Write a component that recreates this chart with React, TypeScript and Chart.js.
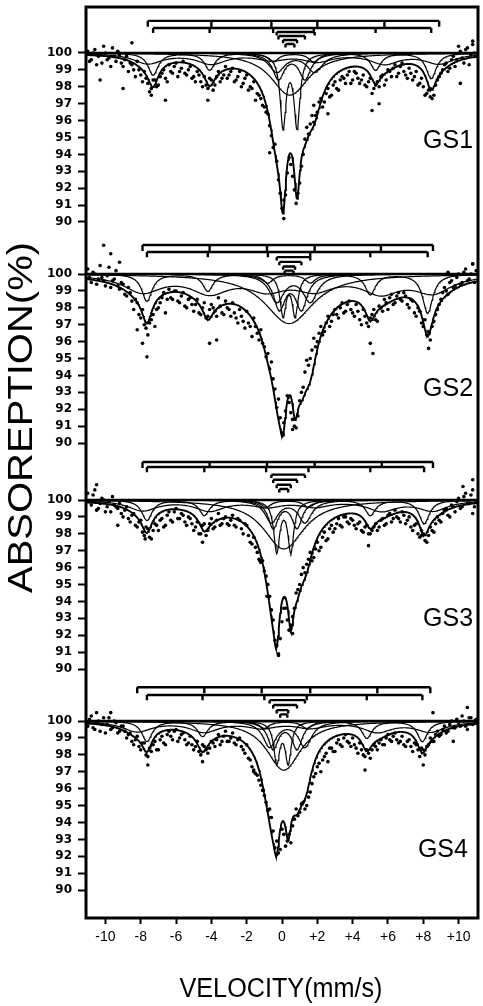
import React, { useEffect, useRef } from "react";
import { Chart, registerables } from "chart.js";

Chart.register(...registerables);

// ---------------- data ----------------
const SAMPLES = ["GS1", "GS2", "GS3", "GS4"];
const ABSORPTION_TICKS = [100, 99, 98, 97, 96, 95, 94, 93, 92, 91, 90];
const VELOCITY_TICKS = [-10, -8, -6, -4, -2, 0, 2, 4, 6, 8, 10];
const VELOCITY_TICK_LABELS = ["-10", "-8", "-6", "-4", "-2", "0", "+2", "+4", "+6", "+8", "+10"];

// measured channels: first velocity of each half and channel step (mm/s)
const CHANNEL_FIRST_A = -11.0;
const CHANNEL_FIRST_B = -10.9;
const CHANNEL_STEP = 0.2;

// absorption (%) per channel
const GS1_ABSORPTION = [
  100.1, 99.6, 100.2, 99.8, 99.4, 100.0, 99.7, 100.3, 99.5, 99.9,
  99.2, 99.8, 99.4, 99.0, 99.5, 98.7, 98.9, 98.2, 97.9, 98.4,
  98.1, 98.8, 98.5, 99.3, 98.8, 99.4, 98.9, 99.5, 98.7, 99.2,
  98.6, 98.9, 98.3, 98.6, 97.9, 98.4, 98.1, 98.9, 98.5, 99.2,
  98.7, 99.1, 98.4, 98.9, 98.2, 98.7, 98.0, 98.3, 97.6, 97.3,
  96.8, 96.4, 95.1, 94.6, 92.5, 90.8, 91.6, 93.8, 92.7, 91.1,
  92.3, 94.0, 95.6, 95.8, 96.9, 96.5, 97.3, 97.1, 97.9, 97.5,
  98.3, 97.8, 98.6, 98.2, 98.9, 98.4, 98.8, 98.2, 98.7, 98.0,
  98.5, 97.9, 98.3, 98.6, 98.1, 99.0, 98.6, 99.3, 98.8, 99.4,
  98.7, 99.1, 98.4, 98.9, 98.2, 98.0, 97.6, 97.9, 97.5, 98.4,
  98.8, 99.3, 98.9, 99.6, 99.2, 100.4, 99.7, 100.2, 99.3, 100.5,
  99.8,
];
const GS1_ABSORPTION_B = [
  99.5, 100.0, 99.3, 99.9, 100.4, 99.6, 99.2, 99.8, 100.1, 99.4,
  99.6, 98.9, 99.3, 98.6, 99.0, 98.3, 98.5, 97.7, 98.4, 98.0,
  98.6, 99.0, 98.3, 98.9, 99.2, 98.6, 99.1, 98.8, 99.0, 98.5,
  98.3, 98.7, 98.0, 98.1, 98.5, 97.8, 98.6, 98.3, 98.7, 98.5,
  98.9, 98.3, 98.6, 98.0, 98.5, 97.8, 97.9, 97.2, 97.5, 96.9,
  96.5, 95.7, 94.4, 93.6, 91.7, 91.3, 92.9, 93.4, 91.9, 91.7,
  93.3, 94.9, 95.2, 96.3, 96.3, 97.1, 96.8, 97.6, 97.4, 98.1,
  97.9, 98.4, 98.5, 98.7, 98.2, 98.9, 98.5, 98.4, 98.1, 98.3,
  97.6, 98.1, 98.0, 98.7, 98.4, 98.9, 99.1, 98.6, 99.2, 98.9,
  98.5, 98.8, 98.6, 98.1, 98.5, 97.5, 97.8, 97.3, 98.1, 98.6,
  99.0, 99.4, 99.1, 99.8, 99.6, 100.1, 99.4, 100.3, 99.9, 100.0,
];
const GS2_ABSORPTION = [
  100.3, 99.5, 100.0, 99.7, 99.8, 99.3, 100.4, 99.6, 100.2, 99.1,
  99.4, 98.7, 98.9, 97.9, 98.3, 97.4, 97.0, 96.4, 97.3, 96.9,
  98.0, 98.6, 97.7, 99.1, 98.5, 99.0, 98.3, 98.9, 98.0, 98.6,
  97.8, 98.5, 97.6, 98.3, 97.5, 98.2, 97.8, 98.6, 97.7, 98.4,
  97.9, 98.3, 97.4, 97.9, 97.2, 97.8, 96.9, 97.4, 96.5, 96.7,
  95.7, 95.3, 94.8, 93.2, 92.6, 90.6, 91.9, 92.4, 91.4, 90.9,
  92.5, 93.3, 94.9, 95.0, 96.2, 96.0, 96.9, 96.6, 97.5, 97.2,
  97.9, 97.4, 98.3, 97.8, 98.4, 97.7, 98.2, 97.3, 97.9, 97.1,
  97.4, 97.9, 97.2, 98.0, 98.5, 97.9, 98.8, 98.3, 98.9, 98.4,
  98.7, 98.0, 98.4, 97.5, 97.8, 96.9, 96.4, 96.1, 97.2, 97.9,
  98.5, 99.2, 98.8, 99.6, 99.3, 100.0, 99.5, 100.3, 99.7, 100.6,
  100.2,
];
const GS2_ABSORPTION_B = [
  99.8, 100.1, 99.4, 100.5, 99.6, 99.9, 99.2, 99.7, 99.3, 99.5,
  98.8, 99.2, 98.4, 98.5, 97.6, 97.9, 96.8, 97.1, 97.6, 97.9,
  98.3, 98.9, 98.5, 98.6, 99.0, 98.4, 98.7, 98.1, 98.5, 98.2,
  98.2, 97.7, 98.0, 97.4, 97.9, 98.0, 97.5, 98.1, 97.6, 98.0,
  97.5, 97.7, 97.1, 97.5, 96.8, 97.1, 96.3, 96.9, 96.1, 95.9,
  95.1, 94.4, 93.8, 92.1, 91.5, 91.2, 92.8, 91.8, 91.0, 91.6,
  93.0, 94.2, 94.6, 95.5, 95.7, 96.5, 96.4, 97.1, 96.9, 97.6,
  97.6, 98.0, 97.7, 98.2, 97.9, 97.5, 97.8, 97.0, 97.5, 96.9,
  97.6, 97.3, 98.1, 97.8, 98.3, 98.6, 98.2, 98.7, 98.5, 98.9,
  98.2, 98.5, 97.7, 98.0, 97.1, 97.3, 96.6, 96.9, 97.6, 98.2,
  98.9, 99.0, 99.5, 99.2, 99.8, 99.4, 100.1, 99.6, 100.0, 99.5,
];
const GS3_ABSORPTION = [
  100.4, 99.7, 100.6, 99.5, 100.1, 99.3, 99.9, 100.2, 99.6, 99.8,
  99.0, 99.6, 98.7, 99.2, 98.4, 98.8, 97.9, 98.3, 97.7, 98.6,
  98.2, 98.9, 98.5, 99.3, 98.7, 99.5, 98.9, 99.1, 98.5, 98.9,
  98.2, 98.7, 98.0, 98.6, 98.2, 98.9, 98.4, 99.2, 98.6, 99.0,
  98.5, 99.1, 98.4, 98.8, 98.0, 98.5, 97.5, 97.8, 96.9, 96.3,
  95.8, 95.0, 93.5, 91.7, 90.9, 92.8, 93.6, 92.3, 93.1, 94.5,
  95.0, 96.0, 96.2, 96.9, 96.6, 97.5, 97.2, 98.1, 97.7, 98.5,
  98.3, 98.9, 98.4, 99.0, 98.6, 98.8, 98.3, 98.7, 98.1, 98.5,
  98.0, 98.4, 98.2, 98.8, 98.5, 99.1, 98.7, 99.4, 98.9, 99.3,
  98.6, 99.0, 98.2, 98.6, 97.8, 98.0, 97.5, 98.4, 98.1, 99.0,
  98.7, 99.4, 99.1, 99.7, 99.3, 100.1, 99.6, 100.4, 99.8, 100.6,
  99.9,
];
const GS3_ABSORPTION_B = [
  99.9, 100.3, 99.4, 99.8, 100.0, 99.6, 99.3, 99.7, 99.5, 99.2,
  99.4, 98.9, 99.1, 98.5, 98.7, 98.1, 98.4, 97.8, 98.2, 98.5,
  98.8, 98.4, 99.1, 98.8, 99.3, 98.9, 99.2, 98.7, 99.0, 98.6,
  98.4, 98.0, 98.5, 97.9, 98.6, 98.3, 98.8, 98.5, 98.9, 98.6,
  98.8, 98.5, 98.9, 98.3, 98.6, 97.9, 97.4, 97.2, 96.5, 96.4,
  95.5, 94.3, 92.9, 91.4, 91.8, 93.6, 92.9, 92.6, 93.6, 94.7,
  95.6, 95.7, 96.5, 96.4, 97.1, 97.0, 97.8, 97.6, 98.3, 98.1,
  98.6, 98.5, 99.0, 98.7, 98.9, 98.5, 98.6, 98.2, 98.4, 98.0,
  98.2, 98.6, 98.4, 98.9, 98.6, 99.2, 98.9, 99.0, 98.7, 99.1,
  98.8, 98.4, 98.5, 98.0, 98.2, 97.6, 97.9, 98.2, 98.6, 98.8,
  99.2, 99.5, 99.0, 99.6, 99.9, 99.5, 100.2, 99.8, 100.3, 99.6,
];
const GS4_ABSORPTION = [
  99.7, 100.3, 99.5, 100.0, 99.8, 99.3, 100.2, 99.6, 99.9, 99.4,
  99.7, 99.0, 99.3, 98.6, 99.1, 98.3, 98.7, 97.9, 98.2, 98.8,
  98.3, 99.1, 98.6, 99.4, 98.9, 99.5, 99.0, 99.3, 98.6, 99.1,
  98.3, 98.8, 98.0, 98.5, 98.1, 98.8, 98.5, 99.2, 98.8, 99.4,
  98.8, 99.3, 98.6, 99.0, 98.3, 98.6, 97.7, 97.0, 96.8, 96.2,
  95.6, 94.7, 94.3, 92.5, 92.2, 93.6, 92.6, 93.3, 93.8, 94.8,
  94.6, 95.2, 95.0, 95.8, 96.7, 97.3, 97.0, 97.9, 97.6, 98.4,
  98.2, 98.9, 98.5, 99.2, 98.7, 99.0, 98.4, 98.7, 98.0, 98.3,
  97.8, 98.6, 98.3, 98.9, 98.6, 99.2, 98.8, 99.3, 98.7, 99.1,
  98.5, 98.9, 98.2, 98.6, 97.9, 98.3, 98.5, 99.0, 98.8, 99.4,
  99.2, 99.7, 99.4, 100.0, 99.6, 99.9, 100.3, 99.7, 100.2, 99.8,
  100.1,
];
const GS4_ABSORPTION_B = [
  100.1, 99.6, 99.9, 99.4, 100.2, 99.8, 99.5, 100.0, 99.3, 99.7,
  99.4, 99.2, 98.8, 98.9, 98.5, 98.7, 98.0, 98.4, 98.6, 98.3,
  98.9, 98.7, 99.2, 99.1, 99.4, 98.8, 99.2, 98.9, 98.7, 98.6,
  98.5, 98.2, 98.6, 98.3, 98.4, 98.7, 98.9, 98.6, 99.1, 98.8,
  99.0, 98.7, 98.9, 98.5, 98.1, 97.8, 97.3, 96.9, 96.5, 95.9,
  95.2, 94.8, 93.5, 92.9, 92.4, 93.3, 92.9, 92.8, 94.2, 94.4,
  95.1, 94.8, 95.5, 96.3, 96.9, 97.5, 97.7, 98.1, 98.4, 98.2,
  98.7, 98.6, 99.0, 98.8, 98.5, 98.6, 98.1, 98.3, 97.9, 98.1,
  98.3, 98.5, 98.7, 98.6, 99.0, 98.9, 99.1, 98.9, 98.8, 98.6,
  98.8, 98.5, 98.7, 98.3, 98.4, 98.0, 98.6, 98.8, 99.2, 99.1,
  99.5, 99.3, 99.8, 99.6, 100.1, 99.7, 100.0, 99.5, 100.2, 100.0,
];

// scattered points lying off the band: [velocity, absorption]
const GS1_OUTLIERS = [[-10.3, 98.4], [-9.0, 97.9], [-8.5, 100.6], [-7.4, 97.5], [-6.6, 97.2], [-4.2, 97.2], [-0.7, 94.1], [0.1, 90.2], [1.8, 95.9], [2.6, 96.4], [5.1, 96.6], [5.5, 97.0], [8.4, 97.4], [10.1, 98.2], [10.8, 100.7]];
const GS2_OUTLIERS = [[-10.1, 101.7], [-9.7, 101.2], [-9.2, 100.7], [-8.2, 96.7], [-7.9, 95.9], [-7.65, 95.1], [-4.1, 95.9], [-3.7, 96.1], [0.06, 90.5], [0.6, 90.8], [5.0, 95.9], [5.15, 95.3], [8.3, 95.6], [9.4, 100.1], [10.8, 100.6]];
const GS3_OUTLIERS = [[-10.5, 100.9], [-9.3, 98.5], [-7.75, 97.7], [-4.5, 97.5], [-1.25, 96.4], [-0.85, 94.3], [-0.2, 90.8], [0.6, 92.1], [4.9, 97.3], [7.9, 97.9], [10.25, 100.8], [10.8, 101.2], [10.8, 99.2]];
const GS4_OUTLIERS = [[-10.5, 100.5], [-9.7, 100.5], [-7.6, 97.4], [-4.5, 97.6], [-1.6, 97.1], [-0.3, 92.1], [4.7, 97.1], [8.0, 97.4], [8.55, 100.5], [9.7, 98.8], [10.5, 100.8]];

// fitted sextets: line positions (mm/s) and line depths (%)
const GS1_SEXTET_A = [-7.6, -4.0, -0.6, 2.0, 5.8, 8.9];
const GS1_SEXTET_A_DEPTH = [0.6, 0.6, 0.35, 0.45, 0.6, 0.6];
const GS1_SEXTET_B = [-7.3, -4.1, -0.5, 1.8, 5.3, 8.45];
const GS1_SEXTET_B_DEPTH = [1.3, 1.0, 0.5, 0.5, 1.0, 1.5];
const GS2_SEXTET_A = [-7.9, -4.1, -0.85, 1.85, 5.6, 8.55];
const GS2_SEXTET_A_DEPTH = [1.0, 1.0, 0.8, 0.8, 1.0, 1.0];
const GS2_SEXTET_B = [-7.65, -4.2, -0.8, 1.6, 5.0, 8.25];
const GS2_SEXTET_B_DEPTH = [1.6, 1.0, 0.5, 0.5, 1.2, 2.3];
const GS3_SEXTET_A = [-7.9, -4.1, -0.85, 1.85, 5.65, 8.55];
const GS3_SEXTET_A_DEPTH = [0.6, 0.6, 0.35, 0.35, 0.6, 0.6];
const GS3_SEXTET_B = [-7.65, -4.4, -0.9, 1.5, 5.0, 8.05];
const GS3_SEXTET_B_DEPTH = [1.2, 0.9, 0.4, 0.4, 0.9, 1.4];
const GS4_SEXTET_A = [-8.2, -4.4, -1.15, 1.6, 5.4, 8.4];
const GS4_SEXTET_A_DEPTH = [0.6, 0.6, 0.35, 0.35, 0.6, 0.6];
const GS4_SEXTET_B = [-7.65, -4.5, -1.0, 1.4, 4.8, 7.95];
const GS4_SEXTET_B_DEPTH = [1.2, 0.9, 0.4, 0.4, 1.0, 1.2];
// line half widths (mm/s) per sample
const SEXTET_A_HWHM = [1.0, 1.3, 1.0, 1.0];
const SEXTET_B_HWHM = [0.35, 0.35, 0.35, 0.35];

// fitted doublets: [line 1, line 2, depth %, half width]
const GS1_DOUBLETS = [[-0.3, 1.85, 1.1, 0.55], [-0.2, 1.3, 1.5, 0.4], [0.06, 0.85, 4.3, 0.2], [0.2, 0.7, 1.3, 1.2]];
const GS2_DOUBLETS = [[-0.3, 1.6, 1.6, 0.5], [-0.15, 1.1, 2.0, 0.4], [0.06, 0.74, 2.4, 0.2], [0.15, 0.65, 1.5, 1.6]];
const GS3_DOUBLETS = [[-0.6, 1.3, 1.3, 0.45], [-0.5, 0.85, 1.6, 0.35], [-0.3, 0.5, 3.0, 0.2], [-0.15, 0.35, 1.5, 1.3]];
const GS4_DOUBLETS = [[-0.7, 1.3, 1.5, 0.45], [-0.5, 0.85, 1.6, 0.35], [-0.3, 0.35, 2.4, 0.2], [-0.1, 0.3, 1.5, 1.1]];

// ---------------- layout ----------------
const X_MIN = -11.1;
const X_MAX = 11.1;
const Y_SPAN = 53.9; // whole frame in % units
const PANEL_BASE = [2.72, 15.8, 29.17, 42.25]; // where each 100 % line sits
const STICK_LEVELS = [
  [101.9, 101.48, 101.24, 101.0, 100.77, 100.53],
  [101.72, 101.3, 101.0, 100.72, 100.45, 100.2],
  [102.25, 101.95, 101.5, 101.2, 100.9, 100.65],
  [102.0, 101.54, 101.24, 100.95, 100.65, 100.4],
];
const LABEL_X = [10.82, 10.82, 10.82, 10.53];
const LABEL_Y = [94.38, 92.78, 92.54, 91.95];

const PANELS = [
  { abs: GS1_ABSORPTION, absB: GS1_ABSORPTION_B, out: GS1_OUTLIERS, sa: GS1_SEXTET_A, sad: GS1_SEXTET_A_DEPTH, sb: GS1_SEXTET_B, sbd: GS1_SEXTET_B_DEPTH, dbl: GS1_DOUBLETS },
  { abs: GS2_ABSORPTION, absB: GS2_ABSORPTION_B, out: GS2_OUTLIERS, sa: GS2_SEXTET_A, sad: GS2_SEXTET_A_DEPTH, sb: GS2_SEXTET_B, sbd: GS2_SEXTET_B_DEPTH, dbl: GS2_DOUBLETS },
  { abs: GS3_ABSORPTION, absB: GS3_ABSORPTION_B, out: GS3_OUTLIERS, sa: GS3_SEXTET_A, sad: GS3_SEXTET_A_DEPTH, sb: GS3_SEXTET_B, sbd: GS3_SEXTET_B_DEPTH, dbl: GS3_DOUBLETS },
  { abs: GS4_ABSORPTION, absB: GS4_ABSORPTION_B, out: GS4_OUTLIERS, sa: GS4_SEXTET_A, sad: GS4_SEXTET_A_DEPTH, sb: GS4_SEXTET_B, sbd: GS4_SEXTET_B_DEPTH, dbl: GS4_DOUBLETS },
];

const Y_TICK_VALUES = PANEL_BASE.flatMap((b) => ABSORPTION_TICKS.map((t) => b + 100 - t));
const Y_TICK_LABELS = PANEL_BASE.flatMap(() => ABSORPTION_TICKS.map((t) => String(t)));

type Line = [number, number, number];
const lorentzSum = (v: number, lines: Line[]) =>
  lines.reduce((s, [p, d, w]) => s + d / (1 + ((v - p) / w) * ((v - p) / w)), 0);

const FINE_GRID: number[] = [];
for (let i = 0; i <= 555; i++) FINE_GRID.push(X_MIN + (i * (X_MAX - X_MIN)) / 555);

function drawFitted(ctx: CanvasRenderingContext2D, text: string, width: number, font: string) {
  ctx.font = font;
  const w = ctx.measureText(text).width;
  ctx.save();
  ctx.scale(width / w, 1);
  ctx.textAlign = "center";
  ctx.textBaseline = "alphabetic";
  ctx.fillText(text, 0, 0);
  ctx.restore();
}

const framePlugin = {
  id: "frame",
  afterDatasetsDraw(chart: any) {
    const { ctx, chartArea: a } = chart;
    ctx.save();
    ctx.strokeStyle = "#000";
    ctx.lineWidth = 3;
    ctx.strokeRect(a.left, a.top, a.right - a.left, a.bottom - a.top);
    ctx.restore();
  },
  afterDraw(chart: any) {
    const { ctx } = chart;
    const xs = chart.scales.x;
    const ys = chart.scales.y;
    ctx.save();
    ctx.fillStyle = "#000";
    ctx.font = "25px 'Liberation Sans', Arial, sans-serif";
    ctx.textAlign = "right";
    ctx.textBaseline = "alphabetic";
    SAMPLES.forEach((s, k) => {
      ctx.fillText(s, xs.getPixelForValue(LABEL_X[k]), ys.getPixelForValue(PANEL_BASE[k] + 100 - LABEL_Y[k]));
    });
    ctx.save();
    ctx.translate(281, 997);
    drawFitted(ctx, "VELOCITY(mm/s)", 203, "27px 'Liberation Sans', Arial, sans-serif");
    ctx.restore();
    ctx.save();
    ctx.translate(32, 417.5);
    ctx.rotate(-Math.PI / 2);
    drawFitted(ctx, "ABSOREPTION(%)", 351, "35px 'Liberation Sans', Arial, sans-serif");
    ctx.restore();
    ctx.restore();
  },
};

export default function App() {
  const ref = useRef<HTMLCanvasElement | null>(null);

  useEffect(() => {
    document.body.style.margin = "0";
    const canvas = ref.current;
    if (!canvas) return;
    const datasets: any[] = [];

    PANELS.forEach((panel, k) => {
      const g = (v: number) => PANEL_BASE[k] + (100 - v);
      const sextetA: Line[] = panel.sa.map((p, i) => [p, panel.sad[i], SEXTET_A_HWHM[k]] as Line);
      const sextetB: Line[] = panel.sb.map((p, i) => [p, panel.sbd[i], SEXTET_B_HWHM[k]] as Line);
      const doublets: Line[][] = panel.dbl.map(([p1, p2, d, w]) => [[p1, d, w], [p2, d, w]] as Line[]);
      const components = [sextetA, sextetB, ...doublets];
      const all: Line[] = components.flat();
      const curve = (lines: Line[]) => FINE_GRID.map((v) => ({ x: v, y: g(100 - lorentzSum(v, lines)) }));

      datasets.push({
        data: [{ x: X_MIN, y: g(100) }, { x: X_MAX, y: g(100) }],
        showLine: true, borderColor: "#000", borderWidth: 2.6, pointRadius: 0,
      });
      components.forEach((c) => {
        datasets.push({ data: curve(c), showLine: true, borderColor: "#000", borderWidth: 1.2, pointRadius: 0 });
      });
      datasets.push({ data: curve(all), showLine: true, borderColor: "#000", borderWidth: 1.9, pointRadius: 0 });

      // stick diagram
      const levels = STICK_LEVELS[k];
      const sticks: any[] = [];
      const bar = (positions: number[], level: number, drop: number) => {
        const lo = Math.min(...positions);
        const hi = Math.max(...positions);
        sticks.push({ x: lo, y: g(level) }, { x: hi, y: g(level) }, { x: lo, y: null });
        positions.forEach((p) => sticks.push({ x: p, y: g(level) }, { x: p, y: g(level - drop) }, { x: p, y: null }));
      };
      bar(panel.sa, levels[0], 0.35);
      bar(panel.sb, levels[1], 0.3);
      panel.dbl.forEach((d, i) => bar([d[0], d[1]], levels[2 + i], 0.2));
      datasets.push({ data: sticks, showLine: true, spanGaps: false, borderColor: "#000", borderWidth: 2.4, pointRadius: 0 });

      // measured points
      const pts = panel.abs.map((a, i) => ({ x: CHANNEL_FIRST_A + i * CHANNEL_STEP, y: g(a) }));
      panel.absB.forEach((a, i) => pts.push({ x: CHANNEL_FIRST_B + i * CHANNEL_STEP, y: g(a) }));
      panel.out.forEach(([v, a]) => pts.push({ x: v, y: g(a) }));
      datasets.push({
        data: pts, showLine: false, pointRadius: 1.8, pointBorderWidth: 0,
        pointBackgroundColor: "#000", backgroundColor: "#000", borderColor: "#000",
      });
    });

    const chart = new Chart(canvas, {
      type: "scatter",
      data: { datasets },
      plugins: [framePlugin],
      options: {
        animation: false,
        responsive: false,
        layout: { padding: { top: 7, right: 5, bottom: 0, left: 0 } },
        plugins: { legend: { display: false }, tooltip: { enabled: false } },
        scales: {
          x: {
            type: "linear",
            position: "bottom",
            min: X_MIN,
            max: X_MAX,
            border: { display: false },
            grid: { drawOnChartArea: false, drawTicks: true, tickLength: 6, tickWidth: 2, tickColor: "#000" },
            ticks: {
              autoSkip: false,
              maxRotation: 0,
              padding: 5,
              color: "#000",
              font: { family: "'Liberation Sans', Arial, sans-serif", size: 14 },
              callback: (_v: any, i: number) => VELOCITY_TICK_LABELS[i],
            },
            afterBuildTicks: (scale: any) => {
              scale.ticks = VELOCITY_TICKS.map((value) => ({ value }));
            },
            afterFit: (scale: any) => {
              scale.height = 88;
              scale.paddingLeft = 0;
              scale.paddingRight = 0;
            },
          },
          y: {
            type: "linear",
            position: "left",
            min: 0,
            max: Y_SPAN,
            reverse: true,
            border: { display: false },
            grid: { drawOnChartArea: false, drawTicks: true, tickLength: 8, tickWidth: 2, tickColor: "#000" },
            ticks: {
              autoSkip: false,
              padding: 6,
              color: "#000",
              font: { family: "'DejaVu Sans', sans-serif", size: 12, weight: "bold" },
              callback: (_v: any, i: number) => Y_TICK_LABELS[i],
            },
            afterBuildTicks: (scale: any) => {
              scale.ticks = Y_TICK_VALUES.map((value) => ({ value }));
            },
            afterFit: (scale: any) => {
              scale.width = 86;
              scale.paddingTop = 0;
              scale.paddingBottom = 0;
            },
          },
        },
      } as any,
    });
    return () => chart.destroy();
  }, []);

  return (
    <div style={{ width: 483, height: 1006, background: "#fff" }}>
      <canvas ref={ref} width={483} height={1006} style={{ display: "block" }} />
    </div>
  );
}
